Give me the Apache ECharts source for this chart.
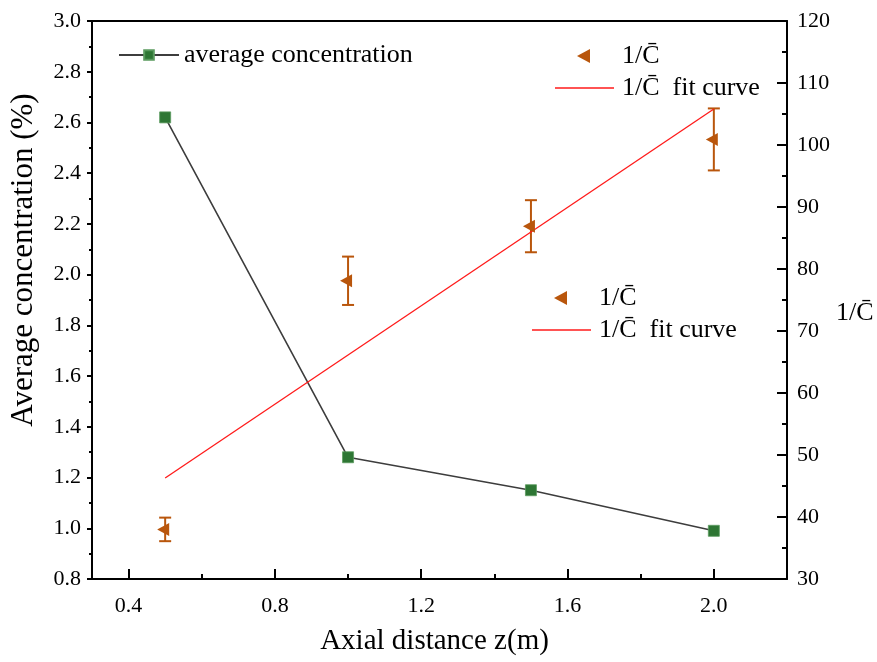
<!DOCTYPE html>
<html>
<head>
<meta charset="utf-8">
<script src="https://cdn.jsdelivr.net/npm/echarts@6/dist/echarts.min.js"></script>
<style>
  html, body { margin: 0; padding: 0; background: #fff; }
  #chart { width: 877px; height: 662px; }
</style>
</head>
<body>
<div id="chart"></div>
<script>
// data
const distance = [0.5, 1.0, 1.5, 2.0];
const avgConc = [2.62, 1.28, 1.15, 0.99];
const invConc = [38.0, 78.1, 86.9, 100.9];
const invErr = [1.9, 3.9, 4.2, 5.0];
const fitX = [0.5, 2.0];
const fitY = [46.3, 105.8];
const xMajorTicks = [0.4, 0.8, 1.2, 1.6, 2.0];
const xMinorTicks = [0.6, 1.0, 1.4, 1.8];

const FONT = 'Liberation Serif';
const INV = '1/C\u0304';
const AVG_NAME = 'average concentration';
const INV_NAME = INV;
const FIT_NAME = INV + '  fit curve';
const BROWN = '#b9560c';
const RED = '#ff1a1a';

// legend icons: the leading moves only widen the bounding box (gives a little gap before the text)
const triIcon = 'path://M0,0M62,14M22,7L35,0L35,14Z';
const lineIcon = 'path://M0,0M62,14M0,6.2L59,6.2L59,7.8L0,7.8Z';

const chart = echarts.init(document.getElementById('chart'));

const baseX = {
  type: 'value', min: 0.3, max: 2.2, position: 'bottom',
  splitLine: { show: false },
  axisLine: { show: false },
  axisLabel: { show: false },
  axisTick: { show: false }
};

const legendText = { fontFamily: FONT, fontSize: 26, color: '#000' };
const invLegendData = [
  { name: INV_NAME, icon: triIcon },
  { name: FIT_NAME, icon: lineIcon }
];

const option = {
  animation: false,
  textStyle: { fontFamily: FONT, color: '#000' },
  grid: { left: 92, right: 90, top: 21, bottom: 83 },
  legend: [
    {
      data: [AVG_NAME], left: 113, top: 37, itemWidth: 60, itemHeight: 12,
      textStyle: legendText
    },
    {
      data: invLegendData, orient: 'vertical', left: 550, top: 38,
      itemWidth: 62, itemHeight: 14, itemGap: 6,
      textStyle: legendText
    },
    {
      data: invLegendData, orient: 'vertical', left: 527, top: 280,
      itemWidth: 62, itemHeight: 14, itemGap: 6,
      textStyle: legendText
    }
  ],
  graphic: [
    {
      type: 'text', x: 24, y: 260, rotation: Math.PI / 2,
      style: { text: 'Average concentration (%)', font: '31px "Liberation Serif"',
        fill: '#000', align: 'center', verticalAlign: 'middle' }
    },
    {
      type: 'text', x: 836, y: 313,
      style: { text: INV, font: '26px "Liberation Serif"',
        fill: '#000', align: 'left', verticalAlign: 'middle' }
    }
  ],
  xAxis: [
    Object.assign({}, baseX, {
      name: 'Axial distance z(m)', nameLocation: 'middle', nameGap: 48,
      nameTextStyle: { fontFamily: FONT, fontSize: 29, color: '#000', padding: [0, 10, 0, 0] },
      axisLine: { show: true, onZero: false, lineStyle: { color: '#000', width: 2 } },
      axisTick: { show: true, inside: true, length: 10, customValues: xMajorTicks,
        lineStyle: { color: '#000', width: 2 } },
      axisLabel: { show: true, customValues: xMajorTicks, margin: 16,
        fontFamily: FONT, fontSize: 22, color: '#000',
        formatter: v => v.toFixed(1) }
    }),
    Object.assign({}, baseX, {
      axisTick: { show: true, inside: true, length: 5, customValues: xMinorTicks,
        lineStyle: { color: '#000', width: 2 } }
    }),
    Object.assign({}, baseX, {
      position: 'top',
      axisLine: { show: true, onZero: false, lineStyle: { color: '#000', width: 2 } }
    })
  ],
  yAxis: [
    {
      type: 'value', min: 0.8, max: 3.0, interval: 0.2, position: 'left',
      splitLine: { show: false },
      axisLine: { show: true, onZero: false, lineStyle: { color: '#000', width: 2 } },
      axisTick: { show: true, inside: false, length: 5, lineStyle: { color: '#000', width: 2 } },
      minorTick: { show: true, splitNumber: 2, length: 3, lineStyle: { color: '#000', width: 2 } },
      axisLabel: { margin: 11, fontFamily: FONT, fontSize: 22, color: '#000',
        formatter: v => v.toFixed(1) }
    },
    {
      type: 'value', min: 30, max: 120, interval: 10, position: 'right',
      splitLine: { show: false },
      axisLine: { show: true, onZero: false, lineStyle: { color: '#000', width: 2 } },
      axisTick: { show: true, inside: true, length: 10, lineStyle: { color: '#000', width: 2 } },
      minorTick: { show: true, splitNumber: 2, length: 5, lineStyle: { color: '#000', width: 2 } },
      axisLabel: { margin: 10, fontFamily: FONT, fontSize: 22, color: '#000' }
    }
  ],
  series: [
    {
      name: AVG_NAME, type: 'line', xAxisIndex: 0, yAxisIndex: 0,
      data: distance.map((x, i) => [x, avgConc[i]]),
      symbol: 'rect', symbolSize: 11,
      lineStyle: { color: '#3d3d3d', width: 1.6 },
      itemStyle: { color: '#2e7634', borderColor: '#5a9a5e', borderWidth: 0.8 }
    },
    {
      name: FIT_NAME, type: 'line', xAxisIndex: 0, yAxisIndex: 1,
      data: fitX.map((x, i) => [x, fitY[i]]),
      symbol: 'none', showSymbol: false,
      lineStyle: { color: RED, width: 1.3 },
      itemStyle: { color: RED }
    },
    {
      name: INV_NAME + '_err', type: 'custom', xAxisIndex: 0, yAxisIndex: 1,
      data: distance.map((x, i) => [x, invConc[i] - invErr[i], invConc[i] + invErr[i]]),
      renderItem: (params, api) => {
        const lo = api.coord([api.value(0), api.value(1)]);
        const hi = api.coord([api.value(0), api.value(2)]);
        const w = 6;
        const style = { stroke: BROWN, lineWidth: 2 };
        return {
          type: 'group',
          children: [
            { type: 'line', shape: { x1: lo[0], y1: lo[1], x2: hi[0], y2: hi[1] }, style },
            { type: 'line', shape: { x1: lo[0] - w, y1: lo[1], x2: lo[0] + w, y2: lo[1] }, style },
            { type: 'line', shape: { x1: hi[0] - w, y1: hi[1], x2: hi[0] + w, y2: hi[1] }, style }
          ]
        };
      },
      z: 3
    },
    {
      name: INV_NAME, type: 'scatter', xAxisIndex: 0, yAxisIndex: 1,
      data: distance.map((x, i) => [x, invConc[i]]),
      symbol: 'path://M0,7L12,0L12,14Z', symbolSize: [12, 13], symbolOffset: [-2, 0],
      itemStyle: { color: BROWN, opacity: 1 },
      z: 4
    }
  ]
};

chart.setOption(option);
</script>
</body>
</html>
